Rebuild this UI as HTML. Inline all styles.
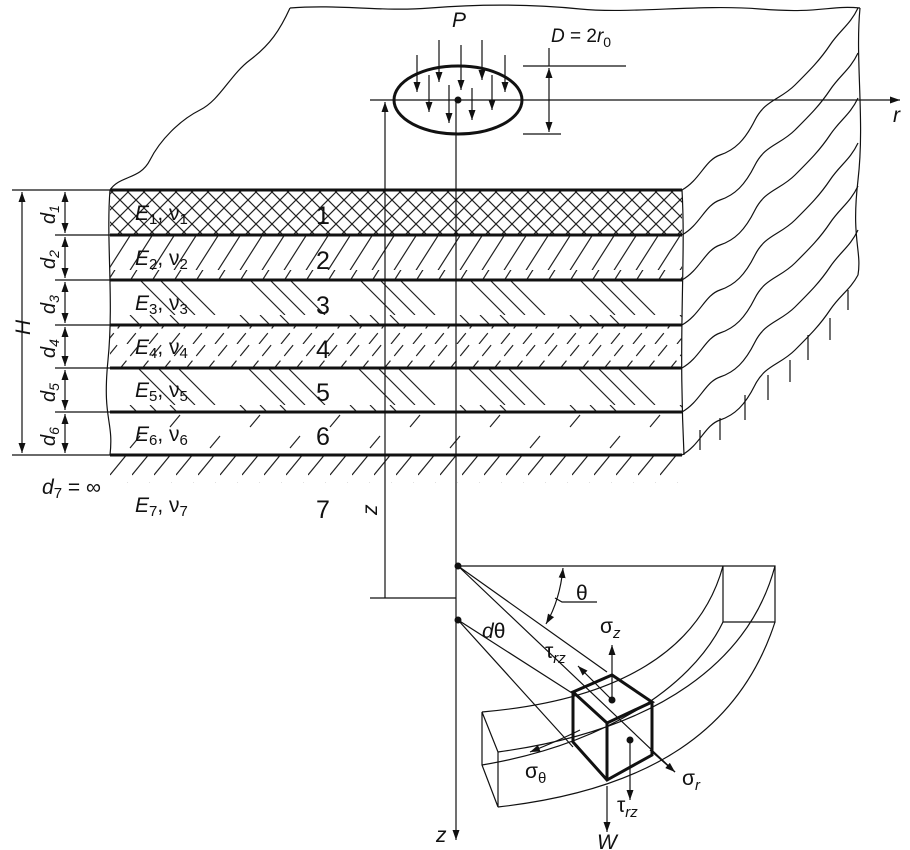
<!DOCTYPE html>
<html><head><style>body{margin:0;background:#fff}svg{display:block}text{font-family:"Liberation Sans",sans-serif;fill:#111}</style></head><body>
<svg width="910" height="850" viewBox="0 0 910 850" xmlns="http://www.w3.org/2000/svg">
<defs>
<marker id="a" markerWidth="10" markerHeight="12" refX="10" refY="5" orient="auto-start-reverse" markerUnits="userSpaceOnUse"><path d="M0,1.5 L10,5 L0,8.5 Z" fill="#111"/></marker>
<pattern id="p1" width="16" height="16" patternUnits="userSpaceOnUse"><path d="M0,0L16,16M16,0L0,16" stroke="#222" stroke-width="1.2"/></pattern>
<pattern id="p2" width="22" height="45" patternUnits="userSpaceOnUse"><path d="M-5,50L30,-5M-27,50L8,-5M17,50L52,-5" stroke="#222" stroke-width="1.2"/></pattern>
<pattern id="p3" width="110" height="45" patternUnits="userSpaceOnUse"><path d="M20,0L65,45M40,0L85,45M60,0L105,45" stroke="#222" stroke-width="1.2"/></pattern>
<pattern id="p4" width="22" height="43" patternUnits="userSpaceOnUse"><path d="M-5,43L30,0M-27,43L8,0M17,43L52,0" stroke="#222" stroke-width="1.2" stroke-dasharray="14,6"/></pattern>
<pattern id="p6" width="80" height="43" patternUnits="userSpaceOnUse"><path d="M10,40L20,28M50,18L60,6" stroke="#222" stroke-width="1.2"/></pattern>
<pattern id="p7" width="22" height="30" patternUnits="userSpaceOnUse"><path d="M0,25L18,3" stroke="#222" stroke-width="1.2"/></pattern>
</defs>
<g fill="none" stroke="#111" stroke-width="1.2">
<path d="M290,8 C340,4 380,12 430,8 S530,4 580,9 S700,4 760,9 S830,5 860,8"/>
<path d="M290,8 C280,30 270,45 250,60 S220,100 200,110 S160,140 150,160 S120,175 110,190"/>
<path d="M860,8 C855,60 865,120 858,180 S862,250 858,275"/>
<g>
<path d="M682,190 C700,180 705,160 720,155 S745,140 755,120 S780,100 795,85 S820,60 830,45 S850,25 858,8"/>
<path d="M682,235 C700,225 705,205 720,200 S745,185 755,165 S780,145 795,130 S820,105 830,90 S850,70 858,53"/>
<path d="M682,280 C700,270 705,250 720,245 S745,230 755,210 S780,190 795,175 S820,150 830,135 S850,115 858,98"/>
<path d="M682,325 C700,315 705,295 720,290 S745,275 755,255 S780,235 795,220 S820,195 830,180 S850,160 858,143"/>
<path d="M682,368 C700,358 705,338 720,333 S745,318 755,298 S780,278 795,263 S820,238 830,223 S850,203 858,186"/>
<path d="M682,412 C700,402 705,382 720,377 S745,362 755,342 S780,322 795,307 S820,282 830,267 S850,247 858,230"/>
<path d="M682,455 C700,445 705,425 720,420 S745,405 755,385 S780,365 795,350 S820,325 830,310 S850,290 858,275"/>
</g>
<path d="M682,190 C686,260 678,330 684,455"/>
<path d="M110,190 C106,240 114,300 108,360 S114,420 110,455"/>
<path d="M700,450v-20M720,440v-22M745,420v-25M768,400v-25M790,382v-22M808,360v-25M830,340v-22M848,310v-20"/>
</g>
<rect x="110" y="190" width="572" height="45" fill="url(#p1)"/>
<rect x="110" y="235" width="572" height="45" fill="url(#p2)"/>
<rect x="110" y="280" width="572" height="45" fill="url(#p3)"/>
<rect x="110" y="325" width="572" height="43" fill="url(#p4)"/>
<rect x="110" y="368" width="572" height="44" fill="url(#p3)"/>
<rect x="110" y="412" width="572" height="43" fill="url(#p6)"/>
<rect x="110" y="455" width="572" height="28" fill="url(#p7)"/>
<g stroke="#111" stroke-width="3"><path d="M110,190H682M110,235H682M110,280H682M110,325H682M110,368H682M110,412H682M110,455H682"/></g>
<g stroke="#111" stroke-width="1.2" fill="none">
<path d="M12,190H110M55,235H110M55,280H110M55,325H110M55,368H110M55,412H110M12,455H110"/>
<path d="M22,192V453" marker-start="url(#a)" marker-end="url(#a)"/>
<path d="M65,192V233" marker-start="url(#a)" marker-end="url(#a)"/>
<path d="M65,237V278" marker-start="url(#a)" marker-end="url(#a)"/>
<path d="M65,282V323" marker-start="url(#a)" marker-end="url(#a)"/>
<path d="M65,327V366" marker-start="url(#a)" marker-end="url(#a)"/>
<path d="M65,370V410" marker-start="url(#a)" marker-end="url(#a)"/>
<path d="M65,414V453" marker-start="url(#a)" marker-end="url(#a)"/>
<path d="M456,100V840" marker-end="url(#a)"/>
<path d="M370,100H900" marker-end="url(#a)"/>
<path d="M385,598V102" marker-end="url(#a)"/>
<path d="M370,598H456"/>
<ellipse cx="458" cy="100" rx="64" ry="34" stroke-width="3"/>
<path d="M523,66H561M523,134H561M549,48V66H626"/>
<path d="M549,68V132" marker-start="url(#a)" marker-end="url(#a)"/>
<path d="M417,55V92" marker-end="url(#a)"/>
<path d="M429,75V112" marker-end="url(#a)"/>
<path d="M439,40V82" marker-end="url(#a)"/>
<path d="M449,85V123" marker-end="url(#a)"/>
<path d="M461,45V90" marker-end="url(#a)"/>
<path d="M472,88V120" marker-end="url(#a)"/>
<path d="M482,40V80" marker-end="url(#a)"/>
<path d="M492,75V110" marker-end="url(#a)"/>
<path d="M505,55V92" marker-end="url(#a)"/>
<path d="M458,566H775V622H723V566"/>
<path d="M723,566C700,650 620,700 482,712M775,566C750,660 660,730 498,752M723,622C690,690 600,745 482,765M775,622C740,730 650,790 498,807"/>
<path d="M482,712L498,752V807L482,765Z"/>
<path d="M458,566L607,672M458,566L675,772M458,620L572,693M458,620L573,747"/>
<path d="M563,568Q560,600 546,624" marker-start="url(#a)" marker-end="url(#a)"/>
<path d="M555,598L562,602H597"/>
<path d="M612,700V645" marker-end="url(#a)"/>
<path d="M612,700L578,666" marker-end="url(#a)"/>
<path d="M580,730Q560,740 530,752" marker-end="url(#a)"/>
<path d="M630,740V800" marker-end="url(#a)"/>
<path d="M607,786V832" marker-end="url(#a)"/>
<path d="M650,750L675,772" marker-end="url(#a)"/>
<g stroke-width="3"><path d="M573,692L612,675L652,702L607,723ZM573,692V742L607,780L652,755V702M607,723V780"/></g>
</g>
<g fill="#111"><circle cx="458" cy="100" r="3.5"/><circle cx="458" cy="566" r="3.5"/><circle cx="458" cy="620" r="3.5"/><circle cx="612" cy="700" r="3.5"/><circle cx="630" cy="740" r="3.5"/></g>
<g font-size="21">
<text x="452" y="27" font-style="italic">P</text>
<text x="551" y="42" font-size="19"><tspan font-style="italic">D</tspan> = 2<tspan font-style="italic">r</tspan><tspan font-size="14" dy="5">0</tspan></text>
<text x="893" y="122" font-style="italic">r</text>
<text x="30" y="335" font-style="italic" transform="rotate(-90 30 335)">H</text>
<g font-style="italic" font-size="20">
<text transform="translate(55,224) rotate(-90)">d<tspan font-size="14" dy="4">1</tspan></text>
<text transform="translate(55,269) rotate(-90)">d<tspan font-size="14" dy="4">2</tspan></text>
<text transform="translate(55,314) rotate(-90)">d<tspan font-size="14" dy="4">3</tspan></text>
<text transform="translate(55,358) rotate(-90)">d<tspan font-size="14" dy="4">4</tspan></text>
<text transform="translate(55,402) rotate(-90)">d<tspan font-size="14" dy="4">5</tspan></text>
<text transform="translate(55,446) rotate(-90)">d<tspan font-size="14" dy="4">6</tspan></text>
</g>
<text x="135" y="220"><tspan font-style="italic">E</tspan><tspan font-size="15" dy="4">1</tspan><tspan dy="-4">, ν</tspan><tspan font-size="15" dy="4">1</tspan></text>
<text x="135" y="265"><tspan font-style="italic">E</tspan><tspan font-size="15" dy="4">2</tspan><tspan dy="-4">, ν</tspan><tspan font-size="15" dy="4">2</tspan></text>
<text x="135" y="310"><tspan font-style="italic">E</tspan><tspan font-size="15" dy="4">3</tspan><tspan dy="-4">, ν</tspan><tspan font-size="15" dy="4">3</tspan></text>
<text x="135" y="354"><tspan font-style="italic">E</tspan><tspan font-size="15" dy="4">4</tspan><tspan dy="-4">, ν</tspan><tspan font-size="15" dy="4">4</tspan></text>
<text x="135" y="397"><tspan font-style="italic">E</tspan><tspan font-size="15" dy="4">5</tspan><tspan dy="-4">, ν</tspan><tspan font-size="15" dy="4">5</tspan></text>
<text x="135" y="441"><tspan font-style="italic">E</tspan><tspan font-size="15" dy="4">6</tspan><tspan dy="-4">, ν</tspan><tspan font-size="15" dy="4">6</tspan></text>
<text x="135" y="512"><tspan font-style="italic">E</tspan><tspan font-size="15" dy="4">7</tspan><tspan dy="-4">, ν</tspan><tspan font-size="15" dy="4">7</tspan></text>
<text x="42" y="494"><tspan font-style="italic">d</tspan><tspan font-size="15" dy="4">7</tspan><tspan dy="-4"> = ∞</tspan></text>
<g font-size="25"><text x="316" y="224">1</text><text x="316" y="269">2</text><text x="316" y="314">3</text><text x="316" y="358">4</text><text x="316" y="401">5</text><text x="316" y="445">6</text><text x="316" y="518">7</text></g>
<text x="377" y="515" font-style="italic" transform="rotate(-90 377 515)">z</text>
<text x="576" y="600">θ</text>
<text x="482" y="638"><tspan font-style="italic">d</tspan>θ</text>
<text x="600" y="633">σ<tspan font-size="15" dy="5" font-style="italic">z</tspan></text>
<text x="545" y="658">τ<tspan font-size="15" dy="5" font-style="italic">rz</tspan></text>
<text x="525" y="778">σ<tspan font-size="15" dy="5">θ</tspan></text>
<text x="682" y="785">σ<tspan font-size="15" dy="5" font-style="italic">r</tspan></text>
<text x="617" y="812">τ<tspan font-size="15" dy="5" font-style="italic">rz</tspan></text>
<text x="597" y="849" font-style="italic">W</text>
<text x="436" y="842" font-style="italic">z</text>
</g>
</svg>
</body></html>
